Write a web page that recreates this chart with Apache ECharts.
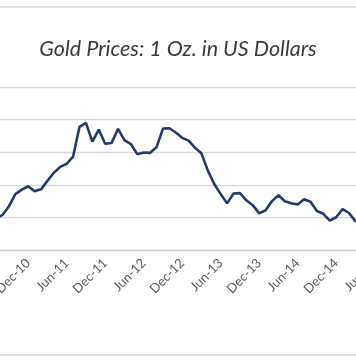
<!DOCTYPE html>
<html><head><meta charset="utf-8">
<script src="https://cdn.jsdelivr.net/npm/echarts@6/dist/echarts.min.js"></script>
<style>html,body{margin:0;padding:0;background:#fff}#c{width:356px;height:364px}</style>
</head><body><div id="c"></div>
<script>
const months = ['Jul-10','Aug-10','Sep-10','Oct-10','Nov-10','Dec-10',
 'Jan-11','Feb-11','Mar-11','Apr-11','May-11','Jun-11','Jul-11','Aug-11','Sep-11','Oct-11','Nov-11','Dec-11',
 'Jan-12','Feb-12','Mar-12','Apr-12','May-12','Jun-12','Jul-12','Aug-12','Sep-12','Oct-12','Nov-12','Dec-12',
 'Jan-13','Feb-13','Mar-13','Apr-13','May-13','Jun-13','Jul-13','Aug-13','Sep-13','Oct-13','Nov-13','Dec-13',
 'Jan-14','Feb-14','Mar-14','Apr-14','May-14','Jun-14','Jul-14','Aug-14','Sep-14','Oct-14','Nov-14','Dec-14',
 'Jan-15','Feb-15','Mar-15','Apr-15','May-15','Jun-15','Jul-15'];
const prices = [1193,1215,1268,1343,1370,1391,
 1360,1372,1424,1474,1510,1529,1573,1756,1780,1665,1739,1652,
 1656,1743,1674,1650,1588,1598,1596,1630,1745,1747,1721,1688,
 1671,1627,1593,1487,1405,1343,1286,1347,1349,1305,1275,1225,
 1244,1300,1336,1299,1287,1279,1311,1296,1239,1222,1180,1201,
 1251,1227,1175,1198,1199,1181,1131];
const yTicks = [1000,1200,1400,1600,1800,2000];
const title = 'Gold Prices: 1 Oz. in US Dollars';

const chart = echarts.init(document.getElementById('c'), null, {renderer:'canvas'});
const isMajor = (v) => v.startsWith('Dec') || v.startsWith('Jun');
chart.setOption({
  animation:false,
  backgroundColor:'#ffffff',
  title:{text:title,left:'center',top:33,textStyle:{fontFamily:'Lato',fontStyle:'italic',fontWeight:'normal',fontSize:21.5,color:'#3a3a3a'}},
  grid:{left:-7.1,width:391.4,top:87,height:163,containLabel:false,outerBoundsMode:'none'},
  xAxis:{type:'category',data:months,boundaryGap:true,
    axisLine:{lineStyle:{color:'#d0d0d0',width:1.3}},
    axisTick:{interval:(i,v)=>isMajor(v),length:5,lineStyle:{color:'#d0d0d0',width:1.3}},
    axisLabel:{interval:(i,v)=>isMajor(v),rotate:45,margin:11,color:'#595959',fontFamily:'Lato',fontSize:13}},
  yAxis:{type:'value',min:yTicks[0],max:yTicks[yTicks.length-1],interval:200,
    axisLine:{show:false},axisTick:{show:false},axisLabel:{show:false},
    splitLine:{lineStyle:{color:'#dadada',width:1.3}}},
  series:[{type:'line',data:prices,symbol:'none',lineStyle:{color:'#253a6b',width:2.6}}],
  graphic:[
    {type:'line',shape:{x1:0,y1:7,x2:356,y2:7},style:{stroke:'#d6d6d6',lineWidth:1.5}},
    {type:'line',shape:{x1:0,y1:355,x2:356,y2:355},style:{stroke:'#d6d6d6',lineWidth:1.5}}
  ]
});
</script></body></html>
